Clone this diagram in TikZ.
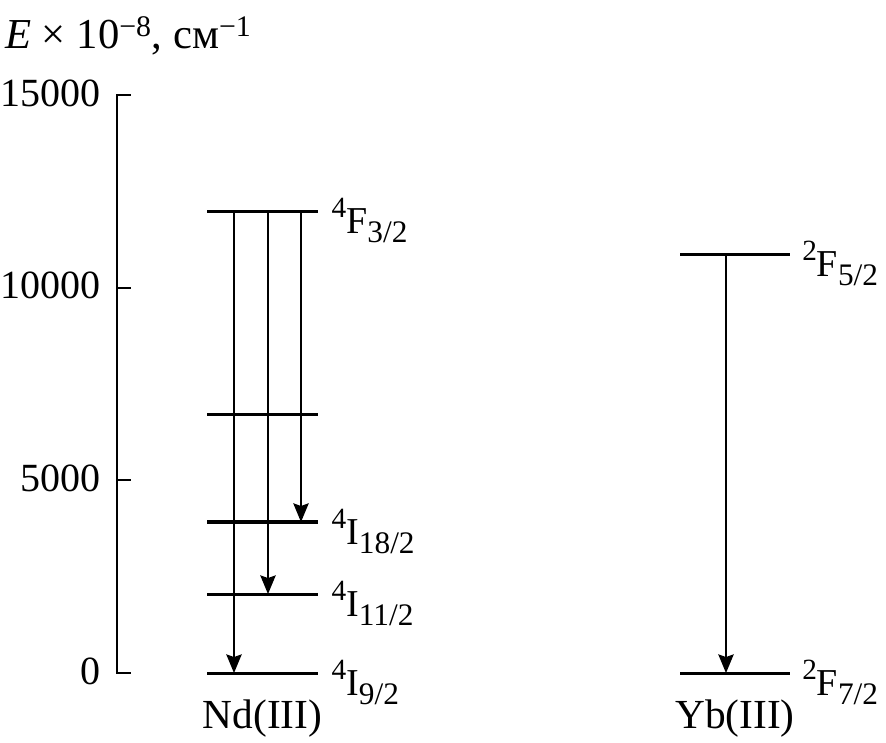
\documentclass[tikz,border=0pt]{standalone}
\usepackage{fontspec}
\setmainfont{Liberation Serif}
\usetikzlibrary{arrows.meta}
\newcommand{\lvlterm}[3]{\raisebox{0.42em}{\fontsize{22}{22}\selectfont #1}#2\raisebox{-0.22em}{\fontsize{23.5}{23.5}\selectfont #3}}
\tikzset{
  axis/.style={line width=1.5pt, line join=miter},
  level/.style={line width=2.3pt},
  trans/.style={line width=1.5pt, -{Stealth[length=14pt,width=11.5pt,inset=2pt]}},
  term/.style={anchor=west, inner sep=0pt, font=\fontsize{28.5}{30}\selectfont},
  ticklabel/.style={anchor=east, inner sep=0pt, font=\fontsize{30}{33}\selectfont},
  ion/.style={inner sep=0pt, font=\fontsize{31}{33}\selectfont},
}

\begin{document}
\begin{tikzpicture}[x=0.75pt, y=28.9pt]
\useasboundingbox (-117,-1.791) rectangle (769,17.467);

% energy axis
\draw[axis] (14,15) -- (0,15) -- (0,0) -- (14,0);
\foreach \t in {5,10}
  \draw[axis] (0,\t) -- (14,\t);
\foreach \t/\lab in {0/0,5/5000,10/10000,15/15000}
  \node[ticklabel] (tick\t) at (-16,\t) [yshift=1.5pt] {\lab};
\node[anchor=base west, inner sep=0pt, font=\fontsize{32}{34}\selectfont] (title) at (-112,16.2)
  {\textit{E} × 10\textsuperscript{−8}, см\textsuperscript{−1}};

% Nd(III) levels
\coordinate (F32l) at (90,11.99);   \coordinate (F32r) at (201,11.99);
\coordinate (midl) at (90,6.72);    \coordinate (midr) at (201,6.72);
\coordinate (I18l) at (90,3.92);    \coordinate (I18r) at (201,3.92);
\coordinate (I112l) at (90,2.05);   \coordinate (I112r) at (201,2.05);
\coordinate (I92l) at (90,0);       \coordinate (I92r) at (201,0);
\foreach \lv in {F32,mid,I18,I112,I92}
  \draw[level] (\lv l) -- (\lv r);

\node[term] (tF32) at ([xshift=10pt,yshift=-7pt]F32r) {\lvlterm{4}{F}{3/2}};
\node[term] (tI18) at ([xshift=10pt,yshift=-7pt]I18r) {\lvlterm{4}{I}{18/2}};
\node[term] (tI112) at ([xshift=10pt,yshift=-7pt]I112r) {\lvlterm{4}{I}{11/2}};
\node[term] (tI92) at ([xshift=10pt,yshift=-7pt]I92r) {\lvlterm{4}{I}{9/2}};
\path (I92l) -- node[ion, yshift=-34pt] (nd) {Nd(III)} (I92r);

% Nd(III) transitions
\coordinate (c1) at (117,0);
\coordinate (c2) at (151,0);
\coordinate (c3) at (184,0);
\draw[trans] (F32l -| c1) -- (I92l -| c1);
\draw[trans] (F32l -| c2) -- (I112l -| c2);
\draw[trans] (F32l -| c3) -- (I18l -| c3);

% Yb(III) levels
\coordinate (F52l) at (563,10.87);  \coordinate (F52r) at (673,10.87);
\coordinate (F72l) at (563,0);      \coordinate (F72r) at (673,0);
\draw[level] (F52l) -- (F52r);
\draw[level] (F72l) -- (F72r);
\node[term] (tF52) at ([xshift=9pt,yshift=-7pt]F52r) {\lvlterm{2}{F}{5/2}};
\node[term] (tF72) at ([xshift=9pt,yshift=-7pt]F72r) {\lvlterm{2}{F}{7/2}};
\path (F72l) -- node[ion, yshift=-34pt] (yb) {Yb(III)} (F72r);

% Yb(III) transition
\coordinate (c4) at (609,0);
\draw[trans] (F52l -| c4) -- (F72l -| c4);
\end{tikzpicture}
\end{document}
